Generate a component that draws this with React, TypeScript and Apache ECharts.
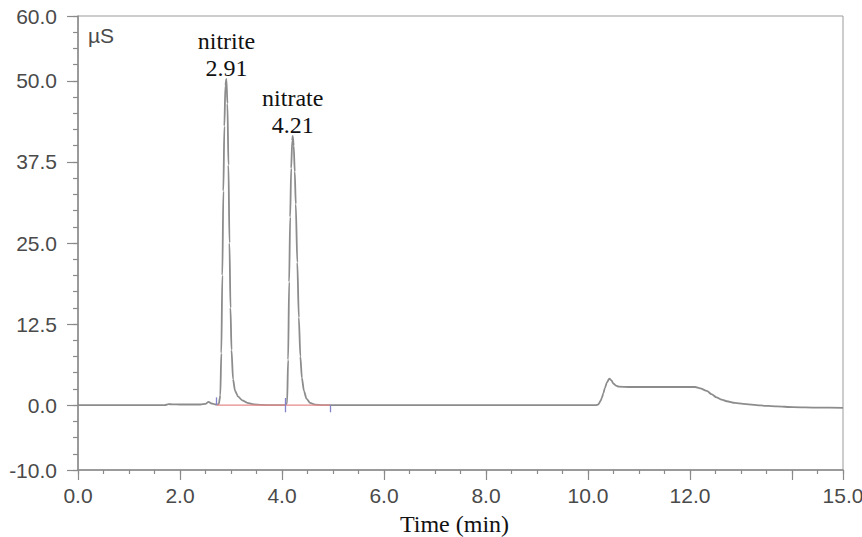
import React, { useEffect, useRef } from "react";
import * as echarts from "echarts";

// ---- data ----
const leadIn: [number, number][] = [
  [0, 0], [1.0, 0], [1.7, 0], [1.78, 0.15], [1.85, 0.12], [2.0, 0.1], [2.4, 0.1],
  [2.5, 0.2], [2.56, 0.5], [2.62, 0.25], [2.7, 0.1], [2.76, 0.15],
];
const nitritePeak: [number, number][] = [
  [2.79, 1.5], [2.81, 8], [2.83, 20], [2.85, 33], [2.87, 43], [2.89, 49.3], [2.91, 50.3],
  [2.93, 46.5], [2.95, 37], [2.97, 25], [2.99, 15], [3.01, 8.5], [3.04, 4], [3.08, 2.2],
  [3.14, 1.3], [3.22, 0.75], [3.32, 0.35], [3.45, 0.12], [3.6, 0.03],
];
const nitratePeak: [number, number][] = [
  [3.8, 0], [4.06, 0], [4.1, 0.3], [4.12, 7], [4.14, 19], [4.16, 29], [4.18, 36.5],
  [4.2, 40.8], [4.21, 41.5], [4.23, 40], [4.25, 36], [4.27, 31], [4.3, 22], [4.33, 13.5],
  [4.36, 7.5], [4.39, 4.2], [4.43, 2.2], [4.48, 1.0], [4.55, 0.35], [4.65, 0.08], [4.8, 0],
];
const midBaseline: [number, number][] = [[5.5, 0], [7.0, 0], [8.5, 0], [10.15, 0]];
const systemPeak: [number, number][] = [
  [10.2, 0.1], [10.25, 0.7], [10.27, 1.1], [10.3, 1.8], [10.33, 2.6], [10.37, 3.5],
  [10.42, 4.1], [10.46, 3.8], [10.5, 3.3], [10.55, 3.0], [10.6, 2.85], [10.8, 2.8],
  [11.2, 2.8], [11.7, 2.8], [12.1, 2.8], [12.2, 2.6],
];
const tailOff: [number, number][] = [
  [12.33, 2.2], [12.42, 1.7], [12.52, 1.2], [12.62, 0.85], [12.72, 0.6], [12.88, 0.35],
  [13.04, 0.2], [13.37, -0.05], [13.7, -0.2], [14.02, -0.3], [14.5, -0.38], [15.0, -0.42],
];

const peakNames = ["nitrite", "nitrate"];
const peakTimes = [2.91, 4.21];
const peakHeights = [50.3, 41.5];

const integrationBaseline: [number, number][] = [[2.72, 0], [4.06, 0], [4.94, 0]];
const markerTimes = [2.72, 4.06, 4.94];
const markerTops = [1.2, 1.1, 0];
const markerBottoms = [0, -1.1, -1.1];

const xLabelValues = [0, 2, 4, 6, 8, 10, 12, 15];
const xMajorTicks = [0, 2, 4, 6, 8, 10, 12, 14, 15];
const yLabelValues = [-10, 0, 12.5, 25, 37.5, 50, 60];

const AXIS_COLOR = "#8a8a8a";
const SANS = "'Liberation Sans', Arial, sans-serif";
const SERIF = "'Liberation Serif', 'Times New Roman', serif";

export default function App() {
  const ref = useRef<HTMLDivElement>(null);

  useEffect(() => {
    if (!ref.current) return;
    const chart = echarts.init(ref.current, undefined, { renderer: "svg" });
    const signal = [...leadIn, ...nitritePeak, ...nitratePeak, ...midBaseline, ...systemPeak, ...tailOff];

    const axisLine = { show: true, onZero: false, lineStyle: { color: AXIS_COLOR, width: 1.5 } };

    chart.setOption({
      animation: false,
      backgroundColor: "#ffffff",
      grid: {
        left: 78, right: 19, top: 16, bottom: 67,
        show: true, borderColor: "#9a9a9a", borderWidth: 1,
        outerBoundsMode: "none",
      },
      xAxis: [
        {
          type: "value", min: 0, max: 15, interval: 0.5, position: "bottom",
          axisLine,
          axisTick: { show: true, length: 4, lineStyle: { color: AXIS_COLOR, width: 1.2 } },
          axisLabel: { show: false },
          splitLine: { show: false },
        },
        {
          type: "value", min: 0, max: 15, position: "bottom",
          axisLine: { show: false, onZero: false },
          axisTick: { show: true, length: 10, customValues: xMajorTicks, lineStyle: { color: AXIS_COLOR, width: 1.2 } },
          axisLabel: {
            show: true, customValues: xLabelValues, margin: 15,
            formatter: (v: number) => v.toFixed(1),
            fontFamily: SANS, fontSize: 21, color: "#4a4a4a",
          },
          splitLine: { show: false },
          name: "Time (min)", nameLocation: "middle", nameGap: 42,
          nameTextStyle: { fontFamily: SERIF, fontSize: 24, color: "#111", padding: [0, 12, 0, 0] },
        },
      ],
      yAxis: [
        {
          type: "value", min: -10, max: 60, interval: 2.5, position: "left",
          axisLine,
          axisTick: { show: true, length: 5, lineStyle: { color: AXIS_COLOR, width: 1.2 } },
          axisLabel: { show: false },
          splitLine: { show: false },
        },
        {
          type: "value", min: -10, max: 60, position: "left",
          axisLine: { show: false, onZero: false },
          axisTick: { show: true, length: 11, customValues: yLabelValues, lineStyle: { color: AXIS_COLOR, width: 1.2 } },
          axisLabel: {
            show: true, customValues: yLabelValues, margin: 21,
            formatter: (v: number) => v.toFixed(1),
            fontFamily: SANS, fontSize: 21, color: "#4a4a4a",
          },
          splitLine: { show: false },
        },
      ],
      graphic: [
        {
          type: "text", left: 88, top: 25,
          style: { text: "µS", font: `21px ${SANS}`, fill: "#4a4a4a" },
        },
      ],
      series: [
        {
          type: "line",
          xAxisIndex: 0, yAxisIndex: 0,
          data: integrationBaseline,
          showSymbol: false,
          lineStyle: { color: "#e58a8a", width: 1.2 },
          z: 3,
          silent: true,
          markLine: {
            silent: true,
            symbol: ["none", "none"],
            label: { show: false },
            lineStyle: { color: "#8484cc", width: 1.3, type: "solid" },
            data: markerTimes.map((t, i) => [
              { coord: [t, markerBottoms[i]] },
              { coord: [t, markerTops[i]] },
            ]),
          },
        },
        {
          type: "line",
          xAxisIndex: 0, yAxisIndex: 0,
          data: signal,
          showSymbol: false,
          smooth: 0.25,
          smoothMonotone: "x",
          lineStyle: { color: "#8c8c8c", width: 1.8 },
          z: 2,
          silent: true,
          markPoint: {
            silent: true,
            symbol: "circle",
            symbolSize: 1,
            itemStyle: { color: "rgba(0,0,0,0)" },
            label: {
              show: true, position: "top", distance: -3,
              fontFamily: SERIF, fontSize: 24, color: "#111", lineHeight: 27,
              formatter: (p: any) => p.name,
            },
            data: peakNames.map((n, i) => ({
              name: `${n}\n${peakTimes[i].toFixed(2)}`,
              coord: [peakTimes[i], peakHeights[i]],
            })),
          },
        },
      ],
    });

    return () => chart.dispose();
  }, []);

  return (
    <div
      ref={ref}
      style={{ position: "fixed", left: 0, top: 0, width: 862, height: 537, background: "#fff" }}
    />
  );
}
